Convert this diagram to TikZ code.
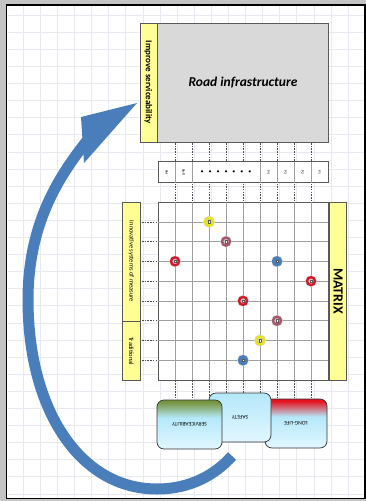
\documentclass[tikz,border=0pt]{standalone}
\usepackage{fontspec}
\setmainfont{Carlito}
\usetikzlibrary{arrows.meta,positioning}

\definecolor{pageGray}{RGB}{196,196,196}
\definecolor{gridBlue}{RGB}{230,234,240}
\definecolor{roadGray}{RGB}{217,217,217}
\definecolor{barYellow}{RGB}{255,255,150}
\definecolor{arrowBlue}{RGB}{74,126,187}
\definecolor{ringRed}{RGB}{214,24,40}
\definecolor{ringMauve}{RGB}{165,88,108}
\definecolor{ringYellow}{RGB}{232,228,20}
\definecolor{cardCyan}{RGB}{180,232,250}
\definecolor{cardPale}{RGB}{226,247,255}
\definecolor{lifeRed}{RGB}{228,18,28}
\definecolor{serviceGreen}{RGB}{118,148,62}

\pgfdeclareverticalshading{lifeShade}{100bp}{color(0bp)=(cardPale); color(25bp)=(cardPale); color(57bp)=(cardCyan); color(73bp)=(lifeRed); color(100bp)=(lifeRed)}
\pgfdeclareverticalshading{safetyShade}{100bp}{color(0bp)=(cardPale); color(25bp)=(cardPale); color(75bp)=(cardCyan); color(100bp)=(cardCyan)}
\pgfdeclareverticalshading{serviceShade}{100bp}{color(0bp)=(cardPale); color(25bp)=(cardPale); color(57bp)=(cardCyan); color(73bp)=(serviceGreen); color(100bp)=(serviceGreen)}

\begin{document}
\begin{tikzpicture}[x=1pt,y=-1pt,
  gridLine/.style={draw=gridBlue, line width=0.6},
  colLine/.style={draw=gray!60!black, line width=0.4, dash pattern=on 1.5pt off 1.2pt},
  cellLine/.style={draw=gray!75, line width=0.5},
  cellBox/.style={draw=gray!70!black, fill=white, inner sep=0, line width=0.6},
  roadBox/.style={draw=gray!70!black, fill=roadGray, inner sep=0, line width=0.6,
    font=\fontsize{13.5}{15}\selectfont\bfseries\itshape},
  yellowBar/.style={draw=gray!70!black, fill=barYellow, inner sep=0, line width=0.6},
  headLabel/.style={inner sep=0, font=\fontsize{3.5}{4}\selectfont},
  ring/.style={circle, inner sep=0, minimum size=8, line width=2.4, fill=gray!40,
    preaction={draw=gray!30, line width=3.6},
    path picture={\draw[gray!70!black, fill=white, line width=0.3]
      ([shift={(-1.2,-1.2)}]path picture bounding box.center) rectangle
      ([shift={(1.2,1.2)}]path picture bounding box.center);}},
  redRing/.style={ring, draw=ringRed},
  mauveRing/.style={ring, draw=ringMauve},
  yellowRing/.style={ring, draw=ringYellow},
  blueDot/.style={ring, draw=arrowBlue, fill=arrowBlue},
  card/.style={draw=gray!40!black, line width=0.7, rounded corners=7, inner sep=0,
    minimum height=49, font=\fontsize{5.5}{6}\selectfont},
  bigShaft/.style={draw=arrowBlue, line width=11},
  bigHead/.style={fill=arrowBlue}
]
\useasboundingbox (0,0) rectangle (366,501);

% page and grid paper
\fill[pageGray] (0,0) rectangle (366,501);
\draw[black, line width=1.5, fill=white] (6.5,5) rectangle (365,498.5);
\foreach \gx in {23.1,40.2,...,364} \draw[gridLine] (\gx,6) -- (\gx,497.5);
\foreach \gy in {15,32.1,...,497} \draw[gridLine] (7.5,\gy) -- (364,\gy);

% column lines
\foreach \cc in {1,...,9}
  \draw[colLine] ({158+17*\cc},143) -- ({158+17*\cc},398);

% matrix
\node[cellBox, minimum width=170, minimum height=178] (mtx) at (243,291) {};
\foreach \cc in {1,...,9}
  \draw[cellLine] ({158+17*\cc},202) -- ({158+17*\cc},380);
\foreach \rr in {1,...,8} {
  \draw[cellLine] (158,{202+19.78*\rr}) -- (328,{202+19.78*\rr});
  \draw[colLine] (142,{202+19.78*\rr}) -- (158,{202+19.78*\rr});
}

% header row
\node[cellBox, minimum width=170, minimum height=21, above=19pt of mtx] (header) {};
\foreach \cc in {1,2,6,7,8,9}
  \draw[cellLine] ({158+17*\cc},162) -- ({158+17*\cc},183);
\foreach \cc/\lab [count=\k] in {0/PM,1/Rp-D,6/P4,7/P3,8/P2,9/P1}
  \node[headLabel] (head\k) at ({166.5+17*\cc},172.5) {\rotatebox{-90}{\lab}};
\node[headLabel, font=\fontsize{6}{6}\selectfont] (dots) at (226,172.5)
  {•\hspace{5pt}•\hspace{5pt}•\hspace{5pt}•\hspace{5pt}•\hspace{5pt}•\hspace{5pt}•};

% road infrastructure
\node[roadBox, minimum width=171, minimum height=119, above=19pt of header] (road) {Road infrastructure};
\node[yellowBar, minimum width=17, minimum height=119, left=0pt of road,
  font=\fontsize{9}{10}\selectfont\bfseries] (improve) {\rotatebox{-90}{Improve serviceability}};

% side bars
\node[yellowBar, minimum width=18, minimum height=119, anchor=north east,
  font=\fontsize{6.5}{7}\selectfont] (innov) at ([xshift=-17pt]mtx.north west)
  {\rotatebox{-90}{Innovative systems of measure}};
\node[yellowBar, minimum width=18, minimum height=59, below=0pt of innov,
  font=\fontsize{6.5}{7}\selectfont] (trad) {\rotatebox{-90}{Traditional}};
\node[yellowBar, minimum width=17, minimum height=178, right=1pt of mtx,
  font=\fontsize{14}{14}\selectfont\bfseries] (matrixBar) {\rotatebox{-90}{MATRIX}};

% markers
\foreach \cc/\rr/\sty [count=\k] in {3/1/yellowRing,4/2/mauveRing,1/3/redRing,7/3/blueDot,
    9/4/redRing,5/5/redRing,7/6/mauveRing,6/7/yellowRing,5/8/blueDot}
  \node[\sty] (mark\k) at ({158+17*\cc},{202+19.78*\rr}) {};

% cards
\node[card, shading=lifeShade, minimum width=62] (life) at (296,423.5) {\rotatebox{180}{LONG-LIFE}};
\node[card, shading=safetyShade, minimum width=62] (safety) at (240,417.5) {\rotatebox{180}{SAFETY}};
\node[card, shading=serviceShade, minimum width=65] (service) at (189.5,424.5) {\rotatebox{180}{SERVICEABILITY}};

% loop arrow
\coordinate (tail) at (232,456);
\coordinate (neck) at (90,137);
\coordinate (tip) at (137,103);
\coordinate (barbUp) at (81,117);
\coordinate (barbLow) at (84,163);
\draw[bigShaft] (tail) .. controls (215,475) and (190,489) .. (157,489)
  .. controls (80,489) and (28,410) .. (28,300)
  .. controls (28,220) and (62,172) .. (neck);
\fill[bigHead] (tip) -- (barbUp) -- (barbLow) -- cycle;
\end{tikzpicture}
\end{document}
